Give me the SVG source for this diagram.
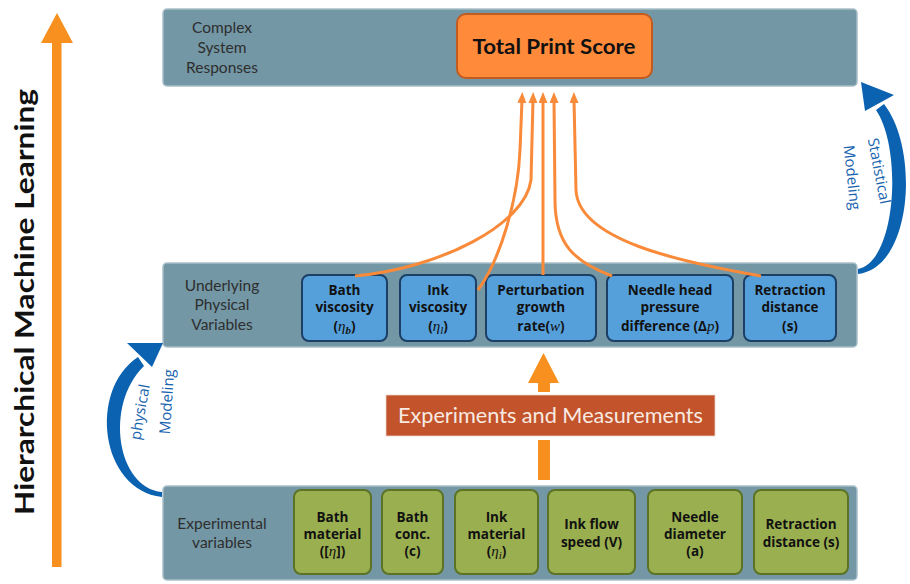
<svg xmlns="http://www.w3.org/2000/svg" width="910" height="584" viewBox="0 0 910 584">
<defs>
<style>
.panel{fill:#7397A5;stroke:#A9C0C9;stroke-width:1.5}
.lbl{font-family:Lato,"Open Sans","Liberation Sans",sans-serif;font-size:15.5px;fill:#2E2E2E;text-anchor:middle}
.bb{fill:#55A0DB;stroke:#1C3F66;stroke-width:2}
.gb{fill:#9AAF4F;stroke:#5C7326;stroke-width:2}
.bt{font-family:"Open Sans",Lato,"Liberation Sans",sans-serif;font-size:13.5px;font-weight:bold;fill:#111;text-anchor:middle}
.m{font-family:"Liberation Serif","DejaVu Serif",serif;font-style:italic;font-weight:normal;font-size:15px}
.oa{fill:none;stroke:#F98A3A;stroke-width:3}
.blue{fill:#0A62B0}
.bl{font-family:"Open Sans",Lato,"Liberation Sans",sans-serif;font-size:15px;fill:#1763AE}
</style>
<marker id="ah" markerUnits="userSpaceOnUse" markerWidth="12" markerHeight="10" refX="3" refY="4.5" orient="auto">
<path d="M0,0 L11,4.5 L0,9 z" fill="#F98A3A"/>
</marker>
</defs>
<rect width="910" height="584" fill="#fff"/>

<!-- left big arrow -->
<g id="hml">
<rect x="52" y="40" width="9.5" height="527" fill="#F7901E"/>
<polygon points="57,13 41,43 73,43" fill="#F7901E"/>
<text transform="translate(34,302) rotate(-90)" font-family="Lato,'Open Sans','Liberation Sans',sans-serif" font-size="27" font-weight="bold" fill="#111" text-anchor="middle" textLength="426" lengthAdjust="spacingAndGlyphs">Hierarchical Machine Learning</text>
</g>

<!-- panels -->
<g id="panel-top">
<rect class="panel" x="163" y="9" width="694" height="77" rx="4"/>
<text class="lbl"><tspan x="222" y="33">Complex</tspan><tspan x="222" y="53">System</tspan><tspan x="222" y="73">Responses</tspan></text>
</g>
<g id="panel-mid">
<rect class="panel" x="163" y="263" width="694" height="84" rx="4"/>
<text class="lbl"><tspan x="222" y="291">Underlying</tspan><tspan x="222" y="310">Physical</tspan><tspan x="222" y="330">Variables</tspan></text>
</g>
<g id="panel-bot">
<rect class="panel" x="163" y="486" width="694" height="94" rx="4"/>
<text class="lbl"><tspan x="222" y="529">Experimental</tspan><tspan x="222" y="548">variables</tspan></text>
</g>

<!-- total print score -->
<g id="total">
<rect x="457" y="14" width="195" height="64" rx="9" fill="#FF8A3A" stroke="#C25B1F" stroke-width="2"/>
<text x="554" y="54" font-family="Lato,'Open Sans','Liberation Sans',sans-serif" font-size="21" font-weight="bold" fill="#111" text-anchor="middle" textLength="163" lengthAdjust="spacingAndGlyphs">Total Print Score</text>
</g>

<!-- blue boxes -->
<g id="b1"><rect class="bb" x="302" y="275" width="85" height="66" rx="7"/>
<text class="bt"><tspan x="344.5" y="295">Bath</tspan><tspan x="344.5" y="312">viscosity</tspan><tspan x="344.5" y="331">(<tspan class="m">η<tspan font-size="11" dy="3" font-weight="bold">b</tspan></tspan><tspan dy="-3">)</tspan></tspan></text></g>
<g id="b2"><rect class="bb" x="400" y="275" width="76" height="66" rx="7"/>
<text class="bt"><tspan x="438" y="295">Ink</tspan><tspan x="438" y="312">viscosity</tspan><tspan x="438" y="331">(<tspan class="m">η<tspan font-size="11" dy="3">l</tspan></tspan><tspan dy="-3">)</tspan></tspan></text></g>
<g id="b3"><rect class="bb" x="486" y="275" width="110" height="66" rx="7"/>
<text class="bt"><tspan x="541" y="295">Perturbation</tspan><tspan x="541" y="312">growth</tspan><tspan x="541" y="331">rate(<tspan class="m">w</tspan>)</tspan></text></g>
<g id="b4"><rect class="bb" x="607" y="275" width="126" height="66" rx="7"/>
<text class="bt"><tspan x="670" y="295">Needle head</tspan><tspan x="670" y="312">pressure</tspan><tspan x="670" y="331">difference (Δ<tspan class="m">p</tspan>)</tspan></text></g>
<g id="b5"><rect class="bb" x="744" y="275" width="92" height="66" rx="7"/>
<text class="bt"><tspan x="790" y="295">Retraction</tspan><tspan x="790" y="312">distance</tspan><tspan x="790" y="331">(s)</tspan></text></g>

<!-- green boxes -->
<g id="g1"><rect class="gb" x="294" y="490" width="77" height="84" rx="7"/>
<text class="bt"><tspan x="332.5" y="522">Bath</tspan><tspan x="332.5" y="539">material</tspan><tspan x="332.5" y="556">([<tspan class="m">η</tspan>])</tspan></text></g>
<g id="g2"><rect class="gb" x="382" y="490" width="61" height="84" rx="7"/>
<text class="bt"><tspan x="412.5" y="522">Bath</tspan><tspan x="412.5" y="539">conc.</tspan><tspan x="412.5" y="556">(c)</tspan></text></g>
<g id="g3"><rect class="gb" x="455" y="490" width="83" height="84" rx="7"/>
<text class="bt"><tspan x="496.5" y="522">Ink</tspan><tspan x="496.5" y="539">material</tspan><tspan x="496.5" y="556">(<tspan class="m">η<tspan font-size="11" dy="3">i</tspan></tspan><tspan dy="-3">)</tspan></tspan></text></g>
<g id="g4"><rect class="gb" x="548" y="490" width="87" height="84" rx="7"/>
<text class="bt"><tspan x="591.5" y="529">Ink flow</tspan><tspan x="591.5" y="547">speed (V)</tspan></text></g>
<g id="g5"><rect class="gb" x="648" y="490" width="94" height="84" rx="7"/>
<text class="bt"><tspan x="695" y="522">Needle</tspan><tspan x="695" y="539">diameter</tspan><tspan x="695" y="556">(a)</tspan></text></g>
<g id="g6"><rect class="gb" x="754" y="490" width="94" height="84" rx="7"/>
<text class="bt"><tspan x="801" y="529">Retraction</tspan><tspan x="801" y="547">distance (s)</tspan></text></g>

<!-- experiments -->
<g id="exp">
<rect x="386" y="395" width="329" height="41" fill="#C2532A" stroke="#E9D5CB" stroke-width="0.8"/>
<text x="550.5" y="422.5" font-family="Lato,'Open Sans','Liberation Sans',sans-serif" font-size="21" fill="#F8EAE2" text-anchor="middle" textLength="305" lengthAdjust="spacingAndGlyphs">Experiments and Measurements</text>
</g>

<!-- connectors -->
<g id="connectors">
<path class="oa" d="M478,290 C500,260 518,200 520,150 L522,100" marker-end="url(#ah)"/>
<path class="oa" d="M355,276 C440,268 525,225 531,180 L533,100" marker-end="url(#ah)"/>
<path class="oa" d="M543,275 L543,100" marker-end="url(#ah)"/>
<path class="oa" d="M612,276 C575,262 555,245 555,200 L554,100" marker-end="url(#ah)"/>
<path class="oa" d="M761,276 C680,262 578,240 576,190 L574,100" marker-end="url(#ah)"/>
<rect x="538" y="440" width="12" height="40" fill="#F7901E"/>
<rect x="538" y="381" width="12" height="11" fill="#F7901E"/>
<polygon points="543.5,353 528,383 559,383" fill="#F7901E"/>
<path class="blue" d="M162,497 C100,490 88,390 138,357 L144,366 C104,405 117,488 162,492 Z"/>
<polygon class="blue" points="163,343 127,343 152,367"/>
<path class="blue" d="M858,274 C912,268 920,150 884,104 L876,110 C903,150 896,262 858,269 Z"/>
<polygon class="blue" points="861,82 865,111 894,95"/>
</g>
<g id="arc-labels">
<text class="bl" transform="translate(145,413) rotate(-80)" text-anchor="middle">physical</text>
<text class="bl" transform="translate(172,402) rotate(-86)" text-anchor="middle">Modeling</text>
<text class="bl" transform="translate(874,172) rotate(79)" text-anchor="middle">Statistical</text>
<text class="bl" transform="translate(847,178) rotate(84)" text-anchor="middle">Modeling</text>
</g>
</svg>
